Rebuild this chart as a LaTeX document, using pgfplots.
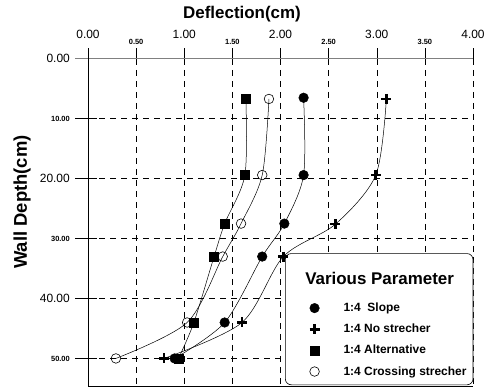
\documentclass[border=0pt]{standalone}
\usepackage{fontspec}
\setmainfont{Liberation Sans}
\usepackage{pgfplots}
\pgfplotsset{compat=1.18}
\newcommand{\Mj}[1]{\raisebox{6bp}{\fontsize{12}{12}\selectfont #1}}
\newcommand{\Mn}[1]{{\fontsize{7.5}{8}\selectfont\bfseries #1}}
\begin{document}
\begin{tikzpicture}[x=1bp,y=1bp]
\begin{axis}[
  scale only axis, width=385bp, height=338bp,
  xmin=0, xmax=4, ymin=-1.8, ymax=54.6, y dir=reverse,
  axis line style={draw=none},
  clip=false,
  tick style={draw=none},
  xtick={0,0.5,1,1.5,2,2.5,3,3.5,4},
  xticklabels={\Mj{0.00},\Mn{0.50},\Mj{1.00},\Mn{1.50},\Mj{2.00},\Mn{2.50},\Mj{3.00},\Mn{3.50},\Mj{4.00}},
  xticklabel pos=upper,
  xticklabel style={anchor=south, inner sep=0pt, yshift=3bp},
  ytick={0,10,20,30,40,50},
  yticklabels={{\fontsize{12}{12}\selectfont 0.00},\Mn{10.00},{\fontsize{12}{12}\selectfont 20.00},\Mn{30.00},{\fontsize{12}{12}\selectfont 40.00},\Mn{50.00}},
  yticklabel style={anchor=east, inner sep=0pt, xshift=-18bp},
  legend style={at={(axis description cs:0.575,0.252)}, anchor=north west, draw=none, fill=none,
    font=\fontsize{12}{13}\selectfont\bfseries, row sep=7bp, column sep=22bp, inner sep=0pt},
  legend cell align=left,
]
% grid
\pgfplotsinvokeforeach{0.5,1,1.5,2,2.5,3,3.5,4}{
  \draw[black, line width=0.5bp, dash pattern=on 6bp off 5bp] (axis cs:#1,0) -- (axis cs:#1,54.6);
  \draw[black, line width=0.5bp] (axis cs:#1,-1.8) -- (axis cs:#1,0);
}
\pgfplotsinvokeforeach{10,20,30,40,50}{
  \draw[black, line width=0.5bp, dash pattern=on 6bp off 5bp] (axis cs:0,#1) -- (axis cs:4,#1);
  \draw[black, line width=0.5bp] (axis cs:-0.135,#1) -- (axis cs:0.09,#1);
}
\draw[gray, line width=1bp] (axis cs:-0.135,0) -- (axis cs:4,0);
\draw[black, line width=0.6bp] (axis cs:0,-1.8) -- (axis cs:0,54.6) -- (axis cs:4,54.6);

% data
\addplot[black, line width=0.5bp, smooth, mark=*, mark size=4.8bp, mark options={solid, fill=black}, forget plot]
  coordinates {(2.24,6.5) (2.24,19.4) (2.04,27.5) (1.81,33.0) (1.42,44.0) (0.90,50.0)};
\addplot[black, line width=0.5bp, smooth, mark=+, mark size=5bp, mark options={solid, line width=2.6bp}, forget plot]
  coordinates {(3.10,6.7) (2.99,19.4) (2.57,27.6) (2.03,33.0) (1.60,44.0) (0.79,50.0)};
\addplot[black, line width=0.5bp, smooth, mark=square*, mark size=4.6bp, mark options={solid, fill=black}, forget plot]
  coordinates {(1.64,6.7) (1.63,19.4) (1.42,27.5) (1.31,33.0) (1.10,44.0) (0.94,50.0)};
\addplot[black, line width=0.5bp, smooth, mark=o, mark size=4.8bp, mark options={solid, fill=white, line width=0.6bp}, forget plot]
  coordinates {(1.88,6.7) (1.81,19.4) (1.59,27.5) (1.40,33.0) (1.03,44.0) (0.29,50.0)};

% legend box
\draw[black, line width=0.6bp, fill=white, rounded corners=6bp] (axis cs:2.05,54.4) rectangle (axis cs:4.0,32.5);
\node[font=\fontsize{17}{17}\selectfont\bfseries] at (axis cs:3.03,36.6) {Various Parameter};

\addlegendimage{only marks, mark=*, mark size=4.8bp, fill=black, black}
\addlegendentry{1:4\ \ Slope}
\addlegendimage{only marks, mark=+, mark size=5bp, black, line width=2.6bp}
\addlegendentry{1:4 No strecher}
\addlegendimage{only marks, mark=square*, mark size=4.6bp, fill=black, black}
\addlegendentry{1:4 Alternative}
\addlegendimage{only marks, mark=o, mark size=4.8bp, black, line width=0.6bp}
\addlegendentry{1:4 Crossing strecher}
\end{axis}
\node[font=\fontsize{17}{17}\selectfont\bfseries] at (154,372) {Deflection(cm)};
\node[font=\fontsize{18.5}{18.5}\selectfont\bfseries, rotate=90] at (-66,184) {Wall Depth(cm)};
\pgfresetboundingbox
\path (-88,-1) rectangle (404,386);
\end{tikzpicture}
\end{document}
